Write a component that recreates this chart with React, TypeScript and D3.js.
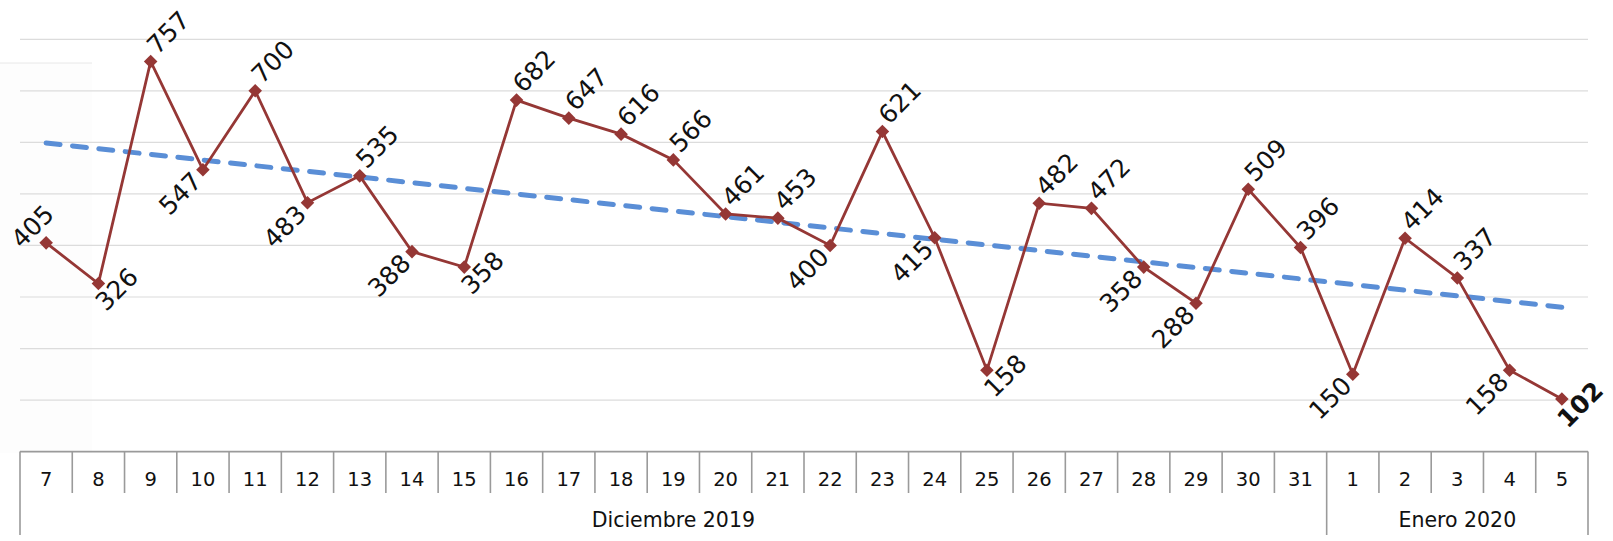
import React from "react";
import * as d3 from "d3";

const days = ["7","8","9","10","11","12","13","14","15","16","17","18","19","20","21","22","23","24","25","26","27","28","29","30","31","1","2","3","4","5"];
const values = [405,326,757,547,700,483,535,388,358,682,647,616,566,461,453,400,621,415,158,482,472,358,288,509,396,150,414,337,158,102];
// label placement relative to each point: ur = up-right, dl = down-left, dr = below-right, ul = above
const labelPlacement = ["ul","dr","ur","dl","ur","dl","ur","dl","dr","ur","ur","ur","ur","ur","ur","dl","ur","dl","dr","ur","ur","dl","dl","ur","ur","dl","ur","ur","dl","dr"];
const groupLabels = ["Diciembre 2019", "Enero 2020"];
const groupSizes = [25, 5];
const yMax = 800;

const W = 1613, H = 541;
const left = 20, right = 1588, top = 39.3, base = 451.6;
const tickBottom = 493, groupBottom = 535;
const FONT = "'DejaVu Sans', sans-serif";
const RED = "#953735";
const BLUE = "#5A8ED6";

export default function App() {
  const idx = days.map((_, i) => i);
  const x = d3.scaleBand<number>().domain(idx).range([left, right]).padding(0);
  const y = d3.scaleLinear().domain([0, yMax]).range([base, top]);
  const bw = x.bandwidth();
  const cx = (i: number) => (x(i) as number) + bw / 2;

  const line = d3.line<number>().x((_, i) => cx(i)).y((v) => y(v));

  // linear trend (least squares)
  const n = values.length;
  const mx = d3.mean(idx) as number;
  const my = d3.mean(values) as number;
  const sxy = d3.sum(idx, (i) => (i - mx) * (values[i] - my));
  const sxx = d3.sum(idx, (i) => (i - mx) * (i - mx));
  const slope = sxy / sxx;
  const icpt = my - slope * mx;
  const trend = (i: number) => icpt + slope * i;

  const gridVals = y.ticks(8).filter((t) => t > 0);
  const diamond = d3.symbol(d3.symbolSquare, 92)() as string;

  const boundaries: number[] = [];
  let acc = 0;
  const groups = groupLabels.map((g, k) => {
    const start = acc;
    acc += groupSizes[k];
    return { name: g, start, end: acc };
  });
  groups.forEach((g) => boundaries.push(g.start));
  boundaries.push(n);

  const placement: Record<string, { x: number; y: number; anchor: string }> = {
    ur: { x: 9, y: -8, anchor: "start" },
    dl: { x: -9, y: 1, anchor: "end" },
    dr: { x: 9, y: 17, anchor: "middle" },
    ul: { x: 2, y: -21, anchor: "middle" },
  };

  return (
    <svg width={W} height={H} style={{ position: "absolute", left: 0, top: 0, background: "#fff" }} fontFamily={FONT}>
      <rect x={0} y={63} width={92} height={390} fill="#fdfdfd" />
      <line x1={0} x2={92} y1={63} y2={63} stroke="#e8e8e8" strokeWidth={1} />
      {gridVals.map((t) => (
        <line key={t} x1={left} x2={right} y1={y(t)} y2={y(t)} stroke="#dcdcdc" strokeWidth={1.2} />
      ))}
      {/* axis */}
      <line x1={left} x2={right} y1={y(0)} y2={y(0)} stroke="#9a9a9a" strokeWidth={1.6} />
      {d3.range(n + 1).map((i) => {
        const bx = i < n ? (x(i) as number) : right;
        const isGroup = boundaries.includes(i);
        return (
          <line key={i} x1={bx} x2={bx} y1={y(0)} y2={isGroup ? groupBottom : tickBottom} stroke="#9a9a9a" strokeWidth={1.6} />
        );
      })}
      {days.map((d, i) => (
        <text key={i} x={cx(i)} y={479} textAnchor="middle" dominantBaseline="central" fontSize={19.5} fill="#111">
          {d}
        </text>
      ))}
      {groups.map((g) => {
        const x0 = x(g.start) as number;
        const x1 = g.end < n ? (x(g.end) as number) : right;
        return (
          <text key={g.name} x={(x0 + x1) / 2} y={520} textAnchor="middle" dominantBaseline="central" fontSize={20.5} fill="#111">
            {g.name}
          </text>
        );
      })}
      {/* trend */}
      <line
        x1={cx(0)}
        y1={y(trend(0))}
        x2={cx(n - 1)}
        y2={y(trend(n - 1))}
        stroke={BLUE}
        strokeWidth={5}
        strokeDasharray="14 12.5"
        strokeLinecap="round"
      />
      <path d={line(values) as string} fill="none" stroke={RED} strokeWidth={2.8} />
      {values.map((v, i) => (
        <path key={i} d={diamond} transform={`translate(${cx(i)},${y(v)}) rotate(45)`} fill={RED} />
      ))}
      {values.map((v, i) => {
        const p = placement[labelPlacement[i]];
        return (
          <g key={i} transform={`translate(${cx(i)},${y(v)}) rotate(-45)`}>
            <text
              x={p.x}
              y={p.y}
              textAnchor={p.anchor as any}
              dominantBaseline="central"
              fontSize={25}
              fontWeight={i === n - 1 ? "bold" : "normal"}
              fill="#111"
            >
              {v}
            </text>
          </g>
        );
      })}
    </svg>
  );
}
